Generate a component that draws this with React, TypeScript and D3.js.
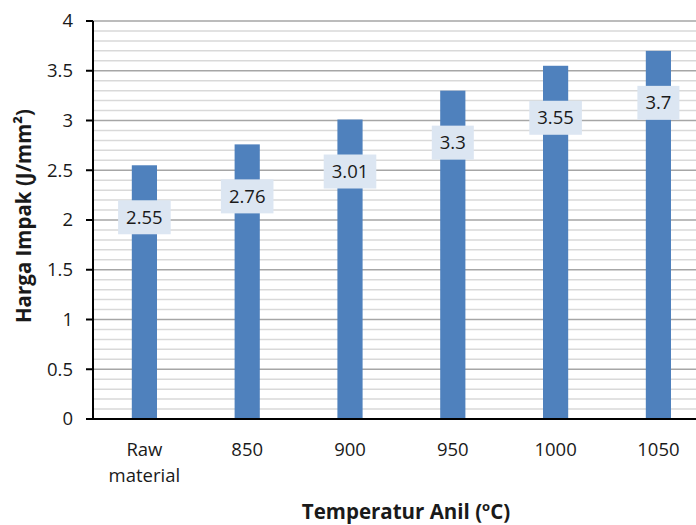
import React from 'react';
import * as d3 from 'd3';

const categories = ['Raw material', '850', '900', '950', '1000', '1050'];
const impactValues = [2.55, 2.76, 3.01, 3.3, 3.55, 3.7];
const yTicks = [0, 0.5, 1, 1.5, 2, 2.5, 3, 3.5, 4];

const width = 696;
const height = 525;
const FONT = '"Open Sans", Lato, sans-serif';

// measure label text so the boxes fit like Excel's
const measureCtx = typeof document !== 'undefined' ? document.createElement('canvas').getContext('2d') : null;
function textWidth(s: string, size: number) {
  if (!measureCtx) return s.length * size * 0.55;
  measureCtx.font = `${size}px "Open Sans"`;
  return measureCtx.measureText(s).width;
}

const App: React.FC = () => {
  const left = 93;
  const top = 21;
  const bottom = 419;
  const step = 102.8;

  const x = d3.scaleBand<string>()
    .domain(categories)
    .range([left, left + step * categories.length]);

  const y = d3.scaleLinear().domain([0, 4]).range([bottom, top]);

  const barW = x.bandwidth() * 0.245;
  const minorTicks = d3.range(1, 41).map(i => i / 10).filter(v => Math.abs(v * 2 - Math.round(v * 2)) > 1e-6);
  const majorTicks = yTicks.filter(v => v > 0);

  return (
    <svg width={width} height={height} style={{ position: 'absolute', left: 0, top: 0, display: 'block', background: 'white' }}
      fontFamily={FONT}>
      <rect width={width} height={height} fill="white" />

      {/* gridlines */}
      {minorTicks.map(v => (
        <line key={'mi' + v} x1={left} x2={width} y1={y(v)} y2={y(v)} stroke="#d9d9d9" strokeWidth={1.5} />
      ))}
      {majorTicks.map(v => (
        <line key={'ma' + v} x1={left} x2={width} y1={y(v)} y2={y(v)} stroke="#a6a6a6" strokeWidth={1.5} />
      ))}

      {/* bars */}
      {impactValues.map((v, i) => {
        const cx = x(categories[i])! + x.bandwidth() / 2;
        return (
          <rect key={'b' + i} x={cx - barW / 2} y={y(v)} width={barW} height={y(0) - y(v)} fill="#4f81bd" />
        );
      })}

      {/* data labels */}
      {impactValues.map((v, i) => {
        const cx = x(categories[i])! + x.bandwidth() / 2;
        const cy = y(v) + 52;
        const label = String(v);
        const w = textWidth(label, 18.5) + 16;
        return (
          <g key={'l' + i}>
            <rect x={cx - w / 2} y={cy - 17} width={w} height={34} fill="#dce6f2" />
            <text x={cx} y={cy} dy="0.35em" textAnchor="middle" fontSize={18.5} fill="#1a1a1a">{label}</text>
          </g>
        );
      })}

      {/* axes */}
      <line x1={left} x2={left} y1={top} y2={bottom} stroke="black" strokeWidth={2} />
      <line x1={left - 7} x2={width} y1={bottom} y2={bottom} stroke="black" strokeWidth={2} />
      {yTicks.map(v => (
        <g key={'t' + v}>
          <line x1={left - 7} x2={left} y1={y(v)} y2={y(v)} stroke="black" strokeWidth={2} />
          <text x={left - 20} y={y(v)} dy="0.35em" textAnchor="end" fontSize={18.5} fill="#1a1a1a">{v}</text>
        </g>
      ))}

      {categories.map(c => {
        const cx = x(c)! + x.bandwidth() / 2;
        const parts = c.split(' ');
        return (
          <text key={'c' + c} x={cx} y={456} textAnchor="middle" fontSize={18.5} fill="#1a1a1a">
            {parts.map((p, j) => (
              <tspan key={j} x={cx} dy={j === 0 ? 0 : 26}>{p}</tspan>
            ))}
          </text>
        );
      })}

      {/* axis titles */}
      <text x={406} y={519} textAnchor="middle" fontSize={20.5} fontWeight="bold" fill="#1a1a1a">
        Temperatur Anil (<tspan fontSize={13} dy={-8}>o</tspan><tspan dy={8}>C)</tspan>
      </text>
      <text transform="translate(31,216) rotate(-90)" textAnchor="middle" fontSize={20.5} fontWeight="bold" fill="#1a1a1a">
        Harga Impak (J/mm²)
      </text>
    </svg>
  );
};

export default App;
